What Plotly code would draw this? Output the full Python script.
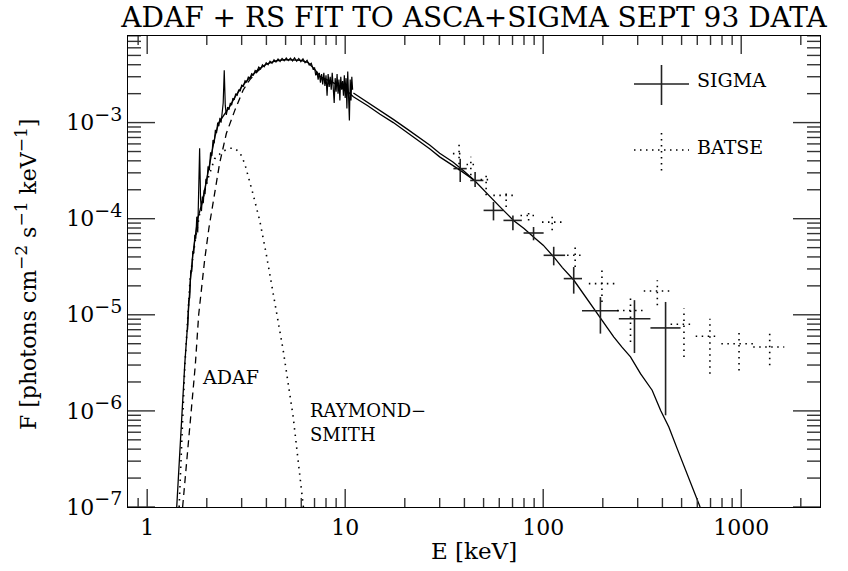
import plotly.graph_objects as go
import math

# ---------------- data ----------------
model_E = [1.41, 1.46, 1.50, 1.55, 1.60, 1.65, 1.70, 1.80, 1.90, 2.00, 2.10, 2.20, 2.30, 2.45, 2.60,
           2.80, 3.00, 3.30, 3.60, 4.00, 4.50, 5.00, 5.50, 6.00, 6.50, 7.00, 7.50, 8.50, 10.0, 11.0,
           13.0, 15.0, 17.5, 20.5, 23.9, 26.8, 30.0, 35.0, 38.0, 45.0, 52.0, 60.0, 70.8, 80.0, 89.4,
           100, 113, 125, 142.6, 155, 170, 194.5, 227, 250, 276, 310, 355, 392, 431, 476, 520, 570,
           620, 650]
model_F = [1.0e-7, 4.0e-7, 1.1e-6, 3.2e-6, 8.0e-6, 2.2e-5, 4.2e-5, 1.0e-4, 1.5e-4, 2.6e-4, 4.4e-4,
           7.2e-4, 1.0e-3, 1.2e-3, 1.45e-3, 1.9e-3, 2.35e-3, 2.95e-3, 3.5e-3, 4.05e-3, 4.4e-3, 4.52e-3,
           4.5e-3, 4.44e-3, 4.2e-3, 3.6e-3, 3.0e-3, 2.67e-3, 2.22e-3, 1.86e-3,
           1.5e-3, 1.22e-3, 1.0e-3, 7.9e-4, 6.4e-4, 5.3e-4, 4.4e-4, 3.6e-4, 3.2e-4, 2.5e-4, 1.82e-4,
           1.35e-4, 9.6e-5, 7.9e-5, 6.45e-5, 5.3e-5, 4.0e-5, 3.1e-5, 2.3e-5, 1.8e-5, 1.4e-5, 9.5e-6,
           5.9e-6, 4.6e-6, 3.65e-6, 2.44e-6, 1.64e-6, 1.01e-6, 6.8e-7, 4.0e-7, 2.5e-7, 1.5e-7,
           1.0e-7, 8.0e-8]

upper_E = [11.0, 13.0, 15.0, 17.5, 20.5, 23.9, 26.8, 30.0, 35.0, 40.0, 45.0]
upper_F = [2.03e-3, 1.62e-3, 1.34e-3, 1.08e-3, 8.6e-4, 6.9e-4, 5.8e-4, 4.8e-4, 3.89e-4, 3.1e-4, 2.5e-4]

asca_E = [1.60, 1.62, 1.64, 1.66, 1.68, 1.70, 1.72, 1.74, 1.76, 1.78, 1.80, 1.82, 1.84, 1.86, 1.88,
          1.90, 1.92, 1.94, 1.96, 1.98, 2.00, 2.03, 2.06, 2.09, 2.12, 2.15, 2.18, 2.21, 2.24, 2.27,
          2.30, 2.33, 2.36, 2.39, 2.42, 2.45, 2.48, 2.51, 2.55, 2.59, 2.63, 2.67, 2.71, 2.75, 2.80,
          2.85, 2.90, 2.95, 3.00, 3.06, 3.12, 3.18, 3.24, 3.30, 3.37, 3.44, 3.51, 3.58, 3.66, 3.74,
          3.82, 3.90, 3.99, 4.08, 4.17, 4.27, 4.37, 4.47, 4.58, 4.69, 4.80, 4.92, 5.04, 5.16, 5.29,
          5.42, 5.55, 5.69, 5.83, 5.97, 6.12, 6.27, 6.42, 6.58, 6.74, 6.90, 7.00, 7.10, 7.20, 7.30,
          7.40, 7.50, 7.60, 7.70, 7.80, 7.90, 8.00, 8.10, 8.20, 8.30, 8.40, 8.50, 8.60, 8.70, 8.80,
          8.90, 9.00, 9.10, 9.20, 9.30, 9.40, 9.50, 9.60, 9.70, 9.80, 9.90, 10.0, 10.1, 10.2, 10.3,
          10.4, 10.5, 10.6, 10.7, 10.8, 10.9]
asca_F = [7.0e-6, 1.4e-5, 1.5e-5, 2.9e-5, 2.8e-5, 4.6e-5, 4.4e-5, 6.8e-5, 6.2e-5, 1.05e-4, 7.2e-5,
          2.0e-4, 5.4e-4, 1.6e-4, 1.2e-4, 1.7e-4, 1.45e-4, 2.0e-4, 1.8e-4, 2.6e-4, 2.3e-4, 3.5e-4,
          3.2e-4, 4.9e-4, 4.5e-4, 6.6e-4, 6.1e-4, 8.4e-4, 7.8e-4, 1.0e-3, 9.2e-4, 1.12e-3, 1.0e-3,
          1.25e-3, 1.6e-3, 3.5e-3, 1.5e-3, 1.2e-3, 1.45e-3, 1.36e-3, 1.6e-3, 1.52e-3, 1.8e-3,
          1.72e-3, 2.0e-3, 1.93e-3, 2.2e-3, 2.12e-3, 2.45e-3, 2.38e-3, 2.72e-3, 2.64e-3, 2.97e-3,
          2.86e-3, 3.22e-3, 3.12e-3, 3.48e-3, 3.38e-3, 3.78e-3, 3.62e-3, 4.0e-3, 3.82e-3, 4.2e-3,
          4.0e-3, 4.35e-3, 4.15e-3, 4.5e-3, 4.26e-3, 4.6e-3, 4.33e-3, 4.65e-3, 4.4e-3, 4.7e-3,
          4.42e-3, 4.68e-3, 4.38e-3, 4.72e-3, 4.35e-3, 4.65e-3, 4.3e-3, 4.6e-3, 4.2e-3, 4.45e-3,
          3.98e-3, 4.15e-3, 3.55e-3, 3.75e-3, 3.1e-3, 3.4e-3, 2.8e-3, 3.3e-3, 2.6e-3, 3.2e-3,
          2.5e-3, 3.3e-3, 2.4e-3, 3.1e-3, 1.9e-3, 3.2e-3, 2.35e-3, 3.0e-3, 2.2e-3, 3.3e-3, 2.3e-3,
          1.6e-3, 2.9e-3, 2.1e-3, 3.2e-3, 2.0e-3, 2.8e-3, 1.7e-3, 3.0e-3, 2.2e-3, 2.7e-3, 1.9e-3,
          3.1e-3, 1.8e-3, 2.9e-3, 1.4e-3, 3.4e-3, 1.9e-3, 1.05e-3, 2.8e-3, 1.7e-3, 3.0e-3, 2.2e-3]

adaf_E = [1.51, 1.59, 1.67, 1.75, 1.82, 1.95, 2.05, 2.15, 2.32, 2.51, 2.77, 3.05, 3.30, 3.60, 3.90]
adaf_F = [1.0e-7, 3.5e-7, 9.4e-7, 3.0e-6, 1.0e-5, 3.7e-5, 8.0e-5, 1.44e-4, 3.74e-4, 7.7e-4,
          1.34e-3, 2.17e-3, 2.8e-3, 3.4e-3, 3.9e-3]

rs_E = [1.45, 1.55, 1.65, 1.75, 1.85, 2.0, 2.19, 2.4, 2.6, 2.77, 2.95, 3.11, 3.42, 3.70, 4.0,
        4.32, 4.86, 5.46, 6.02, 6.15]
rs_F = [1.0e-7, 3.0e-6, 2.5e-5, 6.0e-5, 1.2e-4, 2.4e-4, 4.2e-4, 5.0e-4, 5.4e-4, 5.4e-4, 4.8e-4,
        3.74e-4, 1.82e-4, 9.6e-5, 4.2e-5, 1.66e-5, 4.3e-6, 8.7e-7, 1.3e-7, 1.0e-7]

sig_E = [38.1, 45.3, 56.1, 70.3, 89.4, 113, 142.6, 194.5, 289, 415]
sig_Elo = [35.2, 42.8, 50.0, 63.0, 79.6, 100.5, 127, 157, 241, 348]
sig_Ehi = [41.1, 49.9, 63.0, 78.0, 100.5, 129, 157, 241, 348, 494]
sig_F = [3.32e-4, 2.5e-4, 1.22e-4, 9.6e-5, 7.1e-5, 4.16e-5, 2.38e-5, 1.1e-5, 9.1e-6, 7.3e-6]
sig_Flo = [2.41e-4, 2.14e-4, 9.6e-5, 7.6e-5, 5.96e-5, 3.27e-5, 1.66e-5, 6.37e-6, 4.0e-6, 9.0e-7]
sig_Fhi = [4.2e-4, 3.06e-4, 1.49e-4, 1.08e-4, 8.2e-5, 5.1e-5, 3.14e-5, 1.53e-5, 1.42e-5, 1.36e-5]

bat_E = [37.6, 43.1, 51.5, 65, 84.4, 111, 145, 198, 276, 377, 514, 695, 975, 1393]
bat_Elo = [35, 41, 48.3, 56, 76.8, 98.6, 132, 170, 236, 322, 440, 589, 794, 1150]
bat_Ehi = [40, 46, 55, 73.7, 93, 124.5, 160, 235, 322, 440, 566, 758, 1150, 1650]
bat_F = [4.75e-4, 3.66e-4, 2.55e-4, 1.75e-4, 1.08e-4, 9.2e-5, 4.16e-5, 2.11e-5, 1.11e-5, 1.77e-5,
         7.96e-6, 5.97e-6, 5.0e-6, 4.62e-6]
bat_Flo = [3.2e-4, 2.83e-4, 1.75e-4, 1.32e-4, 9.6e-5, 7.6e-5, 3.14e-5, 1.36e-5, 5.2e-6, 1.26e-5,
           3.64e-6, 2.44e-6, 2.64e-6, 2.98e-6]
bat_Fhi = [6.5e-4, 4.4e-4, 3.0e-4, 1.98e-4, 1.27e-4, 1.08e-4, 5.3e-5, 2.9e-5, 1.6e-5, 2.29e-5,
           1.16e-5, 9.1e-6, 6.9e-6, 6.37e-6]

x_tickvals = [1, 10, 100, 1000]
x_ticktext = ["1", "10", "100", "1000"]
x_minorvals = [0.9, 2, 3, 4, 5, 6, 7, 8, 9, 20, 30, 40, 50, 60, 70, 80, 90,
               200, 300, 400, 500, 600, 700, 800, 900, 2000]
y_tickvals = [1e-7, 1e-6, 1e-5, 1e-4, 1e-3]
y_exponents = ["−7", "−6", "−5", "−4", "−3"]
y_minorvals = [m * 10.0 ** k for k in range(-7, -2) for m in range(2, 10)]

title_text = "ADAF + RS FIT TO ASCA+SIGMA SEPT 93 DATA"
xlabel = "E [keV]"
ylabel = ("F [photons cm<sup><span style='font-size:17px'>−2</span></sup> "
          "s<sup><span style='font-size:17px'>−1</span></sup> "
          "keV<sup><span style='font-size:17px'>−1</span></sup>]")

# ---------------- figure ----------------
FONT = "DejaVu Serif"
W, H = 848, 571
L, T, PW, PH = 128, 36, 692, 471
xr = [math.log10(0.8), math.log10(2500)]
yr = [-7, -2.099]


def crosses(E, Elo, Ehi, F, Flo, Fhi):
    xs, ys = [], []
    for e, el, eh, f, fl, fh in zip(E, Elo, Ehi, F, Flo, Fhi):
        xs += [el, eh, None, e, e, None]
        ys += [f, f, None, fl, fh, None]
    return xs, ys


def x_at(frac):
    return 10 ** (xr[0] + frac * (xr[1] - xr[0]))


def y_at(frac):
    return 10 ** (yr[0] + frac * (yr[1] - yr[0]))


def tick_marks():
    xs, ys = [], []
    for vals, ln in ((x_tickvals, 18), (x_minorvals, 9)):
        f = ln / PH
        for v in vals:
            xs += [v, v, None, v, v, None]
            ys += [y_at(0), y_at(f), None, y_at(1), y_at(1 - f), None]
    for vals, ln in ((y_tickvals, 27), (y_minorvals, 13)):
        f = ln / PW
        for v in vals:
            xs += [x_at(0), x_at(f), None, x_at(1), x_at(1 - f), None]
            ys += [v, v, None, v, v, None]
    return xs, ys


fig = go.Figure()
fig.add_trace(go.Scatter(x=model_E, y=model_F, mode="lines",
                         line=dict(color="black", width=1.3), hoverinfo="skip"))
fig.add_trace(go.Scatter(x=upper_E, y=upper_F, mode="lines",
                         line=dict(color="black", width=1.3), hoverinfo="skip"))
fig.add_trace(go.Scatter(x=asca_E, y=asca_F, mode="lines",
                         line=dict(color="black", width=1.2), hoverinfo="skip"))
fig.add_trace(go.Scatter(x=adaf_E, y=adaf_F, mode="lines",
                         line=dict(color="black", width=1.3, dash="7px,5px"), hoverinfo="skip"))
fig.add_trace(go.Scatter(x=rs_E, y=rs_F, mode="lines",
                         line=dict(color="black", width=1.6, dash="1.5px,5px"), hoverinfo="skip"))
sx, sy = crosses(sig_E, sig_Elo, sig_Ehi, sig_F, sig_Flo, sig_Fhi)
fig.add_trace(go.Scatter(x=sx, y=sy, mode="lines", line=dict(color="#222", width=1.6),
                         hoverinfo="skip"))
bx, by = crosses(bat_E, bat_Elo, bat_Ehi, bat_F, bat_Flo, bat_Fhi)
fig.add_trace(go.Scatter(x=bx, y=by, mode="lines",
                         line=dict(color="black", width=1.6, dash="1.5px,4.5px"), hoverinfo="skip"))
tx, ty = tick_marks()
fig.add_trace(go.Scatter(x=tx, y=ty, mode="lines", line=dict(color="#333", width=1.4),
                         hoverinfo="skip", cliponaxis=False))

common = dict(showline=True, linecolor="black", linewidth=1.3, mirror=True, ticks="",
              showgrid=False, zeroline=False, tickfont=dict(family=FONT, size=22, color="black"))
ytext = ["10<sup><span style='font-size:19px'>%s</span></sup>" % e for e in y_exponents]

fig.update_layout(
    xaxis=dict(type="log", range=xr, tickmode="array", tickvals=x_tickvals, ticktext=x_ticktext,
               **common),
    yaxis=dict(type="log", range=yr, tickmode="array", tickvals=y_tickvals, ticktext=ytext,
               **common),
)


def px(x):
    return (x - L) / PW


def py(y):
    return (T + PH - y) / PH


shapes = [
    dict(type="line", xref="paper", yref="paper", x0=px(634), x1=px(689), y0=py(84), y1=py(84),
         line=dict(color="#222", width=1.6)),
    dict(type="line", xref="paper", yref="paper", x0=px(661.5), x1=px(661.5), y0=py(65), y1=py(105),
         line=dict(color="#222", width=1.6)),
    dict(type="line", xref="paper", yref="paper", x0=px(634), x1=px(689), y0=py(150), y1=py(150),
         line=dict(color="black", width=1.6, dash="1.5px,4.5px")),
    dict(type="line", xref="paper", yref="paper", x0=px(661.5), x1=px(661.5), y0=py(133), y1=py(172),
         line=dict(color="black", width=1.6, dash="1.5px,4.5px")),
]

annots = [
    dict(text="ADAF", x=px(200), y=py(377), xanchor="left", yanchor="middle", size=19),
    dict(text="RAYMOND−", x=px(308), y=py(410), xanchor="left", yanchor="middle", size=18),
    dict(text="SMITH", x=px(308), y=py(434), xanchor="left", yanchor="middle", size=18),
    dict(text="SIGMA", x=px(695), y=py(80), xanchor="left", yanchor="middle", size=19),
    dict(text="BATSE", x=px(695), y=py(147), xanchor="left", yanchor="middle", size=19),
    dict(text=xlabel, x=0.5, y=py(551), xanchor="center", yanchor="middle", size=23),
]
annotations = []
for a in annots:
    annotations.append(dict(text=a["text"], x=a["x"], y=a["y"], xref="paper", yref="paper",
                            xanchor=a["xanchor"], yanchor=a["yanchor"], showarrow=False,
                            font=dict(family=FONT, size=a["size"], color="black")))
annotations.append(dict(text=ylabel, x=px(26), y=py(275), xref="paper", yref="paper",
                        xanchor="center", yanchor="middle", textangle=-90, showarrow=False,
                        font=dict(family=FONT, size=22, color="black")))

fig.update_layout(
    width=W, height=H,
    margin=dict(l=L, r=W - L - PW, t=T, b=H - T - PH),
    paper_bgcolor="white", plot_bgcolor="white",
    showlegend=False,
    shapes=shapes,
    annotations=annotations,
    title=dict(text=title_text, x=0.5, xref="paper", xanchor="center", y=1 - 17 / H,
               yref="container", yanchor="middle",
               font=dict(family=FONT, size=28, color="black")),
)

fig.write_html("out.html", config={"displayModeBar": False, "staticPlot": True},
               post_script="document.body.style.margin='0';document.body.style.padding='0';")
